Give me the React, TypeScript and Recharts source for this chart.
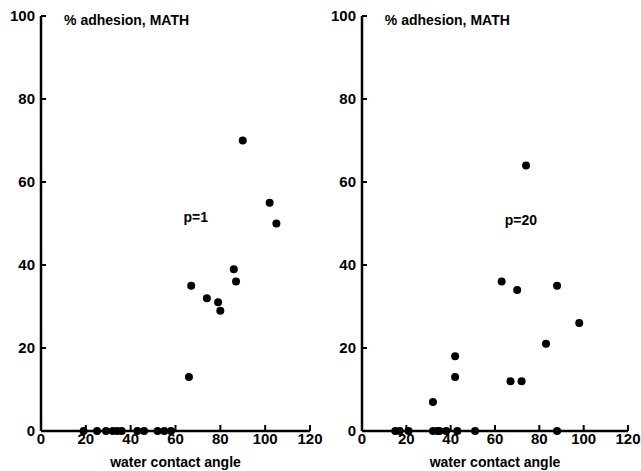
import React from 'react';
import { ScatterChart, Scatter, XAxis, YAxis, ReferenceDot } from 'recharts';

const xTicks = [0, 20, 40, 60, 80, 100, 120];
const yTicks = [0, 20, 40, 60, 80, 100];
const titleText = '% adhesion, MATH';
const xLabelText = 'water contact angle';

// p = 1 panel
const p1Angle = [19, 25, 29, 32, 34, 36, 43, 46, 52, 55, 58, 66, 67, 74, 79, 80, 86, 87, 90, 102, 105];
const p1Adhesion = [0, 0, 0, 0, 0, 0, 0, 0, 0, 0, 0, 13, 35, 32, 31, 29, 39, 36, 70, 55, 50];

// p = 20 panel
const p20Angle = [15, 17, 21, 32, 34, 35, 38, 43, 51, 88, 32, 42, 42, 67, 72, 83, 98, 63, 70, 88, 74];
const p20Adhesion = [0, 0, 0, 0, 0, 0, 0, 0, 0, 0, 7, 13, 18, 12, 12, 21, 26, 36, 34, 35, 64];

const toRows = (xs: number[], ys: number[]) => xs.map((x, i) => ({ x, y: ys[i] }));

const font = '"Liberation Sans", Arial, Helvetica, sans-serif';
const tickStyle = { fill: '#000', fontSize: 15, fontWeight: 700, fontFamily: font };

const Dot = (props: any) => <circle cx={props.cx} cy={props.cy} r={4} fill="#000" />;

const TextShape = (text: string, anchor: 'start' | 'middle') => (props: any) => (
  <text
    x={props.cx}
    y={props.cy}
    textAnchor={anchor}
    dominantBaseline="central"
    fontFamily={font}
    fontWeight={700}
    fontSize={14}
    fill="#000"
  >
    {text}
  </text>
);

interface PanelProps {
  rows: { x: number; y: number }[];
  pLabel: string;
  pX: number;
  pY: number;
  width: number;
  marginLeft: number;
  marginRight: number;
}

const Panel = ({ rows, pLabel, pX, pY, width, marginLeft, marginRight }: PanelProps) => (
  <ScatterChart
    width={width}
    height={471}
    margin={{ top: 16, right: marginRight, bottom: 0, left: marginLeft }}
  >
    <XAxis
      type="number"
      dataKey="x"
      domain={[0, 120]}
      ticks={xTicks}
      interval={0}
      allowDataOverflow
      axisLine={{ stroke: '#000', strokeWidth: 2.5 }}
      tickLine={{ stroke: '#000', strokeWidth: 2 }}
      tickSize={-6}
      tickMargin={8}
      tick={tickStyle}
      height={40}
      label={{
        value: xLabelText,
        position: 'insideBottom',
        offset: 4,
        style: { fill: '#000', fontSize: 14, fontWeight: 700, fontFamily: font },
      }}
    />
    <YAxis
      type="number"
      dataKey="y"
      domain={[0, 100]}
      ticks={yTicks}
      interval={0}
      axisLine={{ stroke: '#000', strokeWidth: 2.5 }}
      tickLine={{ stroke: '#000', strokeWidth: 2 }}
      tickSize={-5}
      tickMargin={11}
      tick={tickStyle}
      width={40}
    />
    <Scatter data={rows} shape={Dot} isAnimationActive={false} />
    <ReferenceDot x={10.3} y={99} r={0} shape={TextShape(titleText, 'start')} />
    <ReferenceDot x={pX} y={pY} r={0} shape={TextShape(pLabel, 'middle')} />
  </ScatterChart>
);

export default function App() {
  return (
    <div style={{ position: 'absolute', left: 0, top: 0, width: 641, height: 471, background: '#fff' }}>
      <style>{`.recharts-surface { overflow: visible; }`}</style>
      <div style={{ position: 'absolute', left: 0, top: 0 }}>
        <Panel
          rows={toRows(p1Angle, p1Adhesion)}
          pLabel="p=1"
          pX={69}
          pY={51.6}
          width={320}
          marginLeft={1}
          marginRight={10}
        />
      </div>
      <div style={{ position: 'absolute', left: 320, top: 0 }}>
        <Panel
          rows={toRows(p20Angle, p20Adhesion)}
          pLabel="p=20"
          pX={71.7}
          pY={50.8}
          width={321}
          marginLeft={2}
          marginRight={13}
        />
      </div>
    </div>
  );
}
